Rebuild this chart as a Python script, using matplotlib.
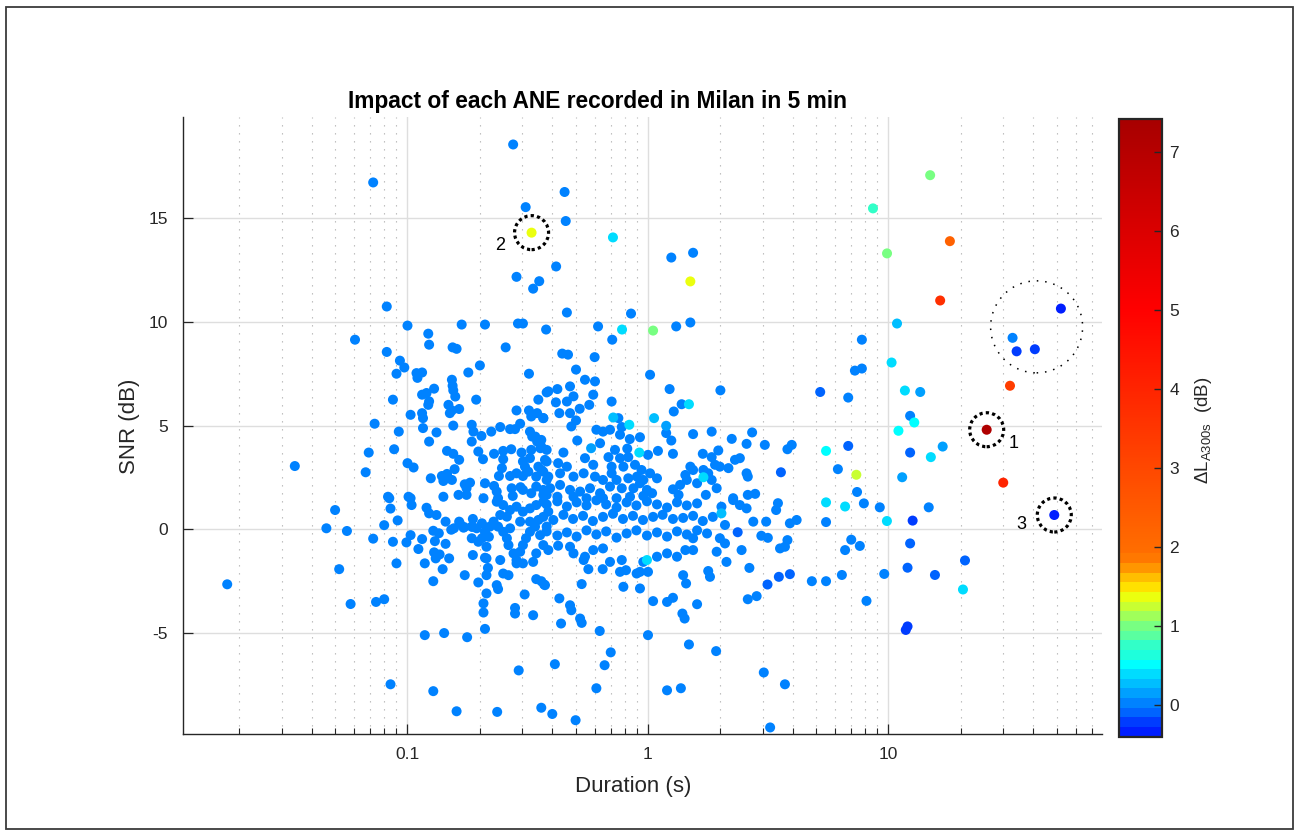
import numpy as np
import matplotlib
matplotlib.use('Agg')
import matplotlib.pyplot as plt
from matplotlib.colors import ListedColormap
from matplotlib.patches import Circle, Rectangle
from matplotlib.transforms import ScaledTranslation
from matplotlib.ticker import LogLocator, NullFormatter

plt.rcParams['font.family'] = ['Liberation Sans', 'DejaVu Sans']
plt.rcParams['mathtext.fontset'] = 'custom'
plt.rcParams['mathtext.rm'] = 'Liberation Sans'
plt.rcParams['mathtext.it'] = 'Liberation Sans:italic'
plt.rcParams['mathtext.bf'] = 'Liberation Sans:bold'

# ---------------- data: (duration s, SNR dB) for events with dL ~ 0 dB -------------
left_sparse = [
    (0.0178, -2.65), (0.034, 3.05), (0.046, 0.05), (0.050, 0.93), (0.056, -0.08),
    (0.052, -1.92), (0.058, -3.6), (0.074, -3.5), (0.080, -3.37), (0.0605, 9.14),
    (0.072, 16.72), (0.082, 10.74), (0.082, 8.55), (0.073, 5.09), (0.069, 3.7),
    (0.067, 2.75), (0.072, -0.45), (0.087, -0.6), (0.090, -1.64), (0.080, 0.2),
    (0.091, 0.43), (0.084, 1.5), (0.085, 1.0), (0.083, 1.57), (0.085, -7.47),
    (0.090, 7.5), (0.087, 6.25), (0.088, 3.86), (0.092, 4.71), (0.093, 8.13),
    (0.097, 7.8),
]
upper_sparse = [
    (0.10, 9.82), (0.122, 9.43), (0.123, 8.9), (0.168, 9.87), (0.21, 9.87),
    (0.154, 8.77), (0.160, 8.7), (0.275, 18.55), (0.31, 15.53), (0.45, 16.26),
    (0.455, 14.86), (0.415, 12.67), (0.284, 12.17), (0.353, 11.96), (0.333, 11.6),
    (0.288, 9.92), (0.302, 9.92), (0.377, 9.63), (0.46, 10.45), (0.62, 9.78),
    (0.85, 10.4), (0.71, 9.14), (1.25, 13.1), (1.54, 13.33), (1.31, 9.78),
    (1.5, 9.97), (0.256, 8.77), (0.44, 8.47), (0.465, 8.42), (0.2, 7.9),
    (0.32, 7.5), (0.6, 8.3), (0.11, 7.3),
]
core_upper_left = [
    (0.109, 7.53), (0.115, 7.56), (0.179, 7.56), (0.153, 7.21), (0.154, 6.92),
    (0.155, 6.7), (0.158, 6.4), (0.129, 6.78), (0.115, 6.49), (0.12, 6.57),
    (0.123, 6.17), (0.122, 6.0), (0.193, 6.25), (0.148, 6.0), (0.153, 5.73),
    (0.164, 5.8), (0.150, 5.6), (0.103, 5.52), (0.115, 5.6), (0.116, 5.36),
    (0.116, 4.88), (0.132, 4.67), (0.155, 5.0), (0.185, 5.04), (0.188, 4.71),
    (0.203, 4.5), (0.223, 4.71), (0.185, 4.23), (0.123, 4.23), (0.243, 4.93),
    (0.267, 4.83), (0.28, 4.83), (0.294, 5.09), (0.284, 5.73), (0.32, 5.73),
    (0.327, 5.44), (0.35, 6.25), (0.367, 5.36), (0.379, 6.6), (0.346, 5.6),
    (0.1, 3.19), (0.106, 2.98), (0.146, 3.78), (0.155, 3.64), (0.164, 3.35),
    (0.157, 2.9), (0.139, 2.57), (0.146, 2.67), (0.141, 2.33), (0.153, 2.38),
    (0.125, 2.46), (0.173, 2.17), (0.182, 2.25), (0.176, 1.98), (0.197, 3.75),
    (0.206, 3.38), (0.229, 3.64), (0.25, 3.78), (0.27, 3.86), (0.298, 3.7),
    (0.25, 3.38), (0.247, 2.95), (0.24, 2.57), (0.267, 2.57), (0.284, 2.7),
    (0.302, 2.57), (0.21, 2.22), (0.229, 2.09), (0.235, 1.82), (0.271, 1.98),
    (0.295, 2.03), (0.323, 4.71), (0.33, 4.47), (0.34, 4.47), (0.346, 4.23),
    (0.36, 4.31), (0.327, 3.83), (0.357, 3.91), (0.379, 3.83), (0.379, 3.27),
    (0.35, 3.02), (0.367, 2.78), (0.343, 2.54), (0.379, 2.38), (0.343, 2.06),
    (0.367, 1.9), (0.379, 1.66), (0.302, 3.27), (0.323, 3.43), (0.308, 3.02),
    (0.318, 2.78), (0.101, 1.57), (0.141, 1.57), (0.163, 1.66), (0.176, 1.66),
    (0.207, 1.5), (0.238, 1.5), (0.274, 1.61), (0.327, 1.74), (0.302, 1.9),
]
core_upper_right = [
    (0.502, 7.7), (1.02, 7.45), (0.547, 7.21), (0.602, 7.13), (0.385, 6.65),
    (0.42, 6.76), (0.474, 6.89), (0.49, 6.41), (0.46, 6.16), (0.414, 6.12),
    (0.592, 6.49), (0.57, 6.0), (0.52, 5.81), (0.706, 6.16), (1.23, 6.76),
    (2.0, 6.7), (1.38, 6.03), (1.28, 5.68), (0.428, 5.6), (0.474, 5.6),
    (0.502, 5.25), (0.48, 4.96), (0.367, 5.36), (0.753, 5.36), (1.19, 4.64),
    (1.25, 4.28), (1.27, 3.64), (1.54, 4.59), (1.84, 4.71), (2.23, 4.36),
    (2.71, 4.67), (2.57, 4.12), (3.06, 4.07), (3.8, 3.86), (3.96, 4.07),
    (0.61, 4.8), (0.65, 4.71), (0.695, 4.8), (0.778, 4.93), (0.765, 4.56),
    (0.84, 4.35), (0.926, 4.44), (0.508, 4.28), (0.632, 4.15), (0.36, 3.99),
    (0.445, 3.7), (0.373, 3.35), (0.423, 3.19), (0.729, 3.83), (0.82, 3.89),
    (1.0, 3.59), (1.1, 3.78), (0.547, 3.43), (0.592, 3.11), (0.685, 3.48),
    (0.765, 3.43), (0.828, 3.48), (0.79, 3.02), (0.706, 3.02), (0.883, 3.11),
    (0.94, 2.86), (1.69, 3.64), (1.84, 3.48), (1.96, 3.8), (1.9, 3.11),
    (1.99, 3.02), (2.3, 3.35), (2.41, 3.43), (2.16, 2.95), (2.57, 2.7),
    (2.6, 2.54), (1.5, 3.02), (1.54, 2.86), (1.43, 2.62), (1.7, 2.86),
    (1.78, 2.7), (1.84, 2.38), (1.93, 1.98), (1.6, 2.22), (1.27, 1.93),
    (1.36, 2.14), (1.45, 2.38), (1.34, 1.66), (1.74, 1.66), (2.26, 1.5),
    (2.6, 1.66), (2.79, 1.71), (0.36, 2.87), (0.385, 2.54), (0.431, 2.7),
    (0.46, 3.02), (0.49, 2.54), (0.54, 2.7), (0.602, 2.54), (0.65, 2.38),
    (0.706, 2.7), (0.74, 2.38), (0.828, 2.46), (0.9, 2.54), (0.956, 2.38),
    (1.02, 2.7), (1.09, 2.46), (0.87, 1.98), (0.926, 2.22), (0.99, 1.9),
    (0.778, 1.98), (0.695, 2.06), (0.632, 1.74), (0.574, 1.98), (0.522, 1.82),
    (0.474, 1.9), (0.431, 2.14), (0.392, 1.98), (0.367, 1.66), (0.42, 1.57),
    (0.49, 1.57), (0.555, 1.5), (0.65, 1.5), (0.74, 1.5), (0.842, 1.57),
    (0.956, 1.61), (1.04, 1.74),
]
core_lower_left = [
    (0.103, 1.5), (0.104, 1.17), (0.12, 1.04), (0.123, 0.77), (0.132, 0.69),
    (0.144, 0.37), (0.103, -0.28), (0.099, -0.63), (0.115, -0.47), (0.111, -0.95),
    (0.118, -1.64), (0.128, -0.07), (0.135, -0.19), (0.130, -0.57), (0.144, -0.7),
    (0.129, -1.11), (0.136, -1.21), (0.149, -1.4), (0.131, -1.4), (0.140, -1.92),
    (0.128, -2.5), (0.152, -0.02), (0.164, 0.37), (0.172, 0.11), (0.186, 0.12),
    (0.187, 0.5), (0.156, 0.05), (0.165, 0.29), (0.171, 0.08), (0.185, 0.13),
    (0.194, 0.05), (0.204, 0.29), (0.21, -0.12), (0.22, 0.13), (0.218, -0.36),
    (0.213, -0.84), (0.204, -0.43), (0.185, -0.43), (0.197, -0.6), (0.238, 0.13),
    (0.25, -0.12), (0.267, 0.05), (0.259, -0.43), (0.263, -0.76), (0.276, -1.16),
    (0.284, -1.48), (0.294, -1.08), (0.302, -0.76), (0.311, -0.43), (0.323, -0.12),
    (0.339, 0.13), (0.356, -0.28), (0.367, -0.76), (0.385, -1.0), (0.343, -1.16),
    (0.333, -1.57), (0.302, -1.64), (0.235, 1.33), (0.25, 1.17), (0.267, 0.93),
    (0.284, 1.09), (0.302, 0.85), (0.323, 1.01), (0.343, 1.17), (0.367, 1.33),
    (0.385, 0.85), (0.294, 0.37), (0.323, 0.37), (0.35, 0.45), (0.379, 0.13),
    (0.259, 0.61), (0.243, 0.69), (0.228, 0.37), (0.213, -1.4), (0.216, -1.86),
    (0.213, -2.21), (0.243, -1.48), (0.25, -2.13), (0.263, -2.21), (0.235, -2.69),
    (0.238, -2.88), (0.197, -2.56), (0.213, -3.09), (0.207, -3.57), (0.207, -4.01),
    (0.307, -3.14), (0.343, -2.4), (0.37, -2.66), (0.28, -3.79), (0.28, -4.06),
    (0.333, -4.14), (0.173, -2.21), (0.187, -1.24), (0.21, -1.37), (0.284, -1.64),
]
core_lower_right = [
    (0.423, -0.79), (0.474, -0.84), (0.49, -1.16), (0.54, -1.48), (0.565, -1.92),
    (0.592, -1.0), (0.65, -0.92), (0.695, -1.57), (0.778, -1.48), (0.765, -2.05),
    (0.81, -1.97), (0.79, -2.77), (0.926, -2.85), (0.897, -2.13), (1.0, -2.05),
    (0.956, -1.57), (1.09, -1.32), (1.2, -1.16), (1.32, -1.32), (1.4, -2.21),
    (1.44, -2.61), (1.43, -1.0), (1.54, -1.0), (1.54, -0.43), (1.78, -2.01),
    (1.81, -2.29), (1.93, -1.08), (2.09, -0.68), (1.99, -0.43), (2.12, -1.57),
    (2.45, -1.0), (2.64, -1.86), (2.96, -0.31), (3.15, -0.41), (3.54, -0.92),
    (3.71, -0.84), (3.8, -0.52), (2.83, -3.22), (2.6, -3.37), (3.89, 0.29),
    (4.15, 0.45), (3.47, 1.26), (3.41, 0.93), (3.1, 0.37), (2.74, 0.37),
    (2.57, 1.01), (2.41, 1.17), (2.26, 1.41), (2.02, 1.09), (2.09, 0.21),
    (0.53, -2.64), (0.428, -3.33), (0.474, -3.66), (0.48, -3.9), (0.522, -4.3),
    (0.53, -4.51), (0.435, -4.54), (0.36, -2.5), (0.373, -2.69), (1.05, -3.46),
    (1.2, -3.5), (1.27, -3.3), (1.6, -3.61), (1.39, -4.06), (1.42, -4.3),
    (0.648, -1.92), (0.547, -1.32), (0.926, -2.05),
]
core_band_top = [
    (0.379, 1.2), (0.42, 1.35), (0.46, 1.1), (0.505, 1.3), (0.555, 1.15),
    (0.61, 1.4), (0.67, 1.2), (0.74, 1.05), (0.815, 1.3), (0.895, 1.15),
    (0.99, 1.35), (1.09, 1.2), (1.2, 1.05), (1.32, 1.3), (1.45, 1.15), (1.6, 1.25),
]
core_band_mid = [
    (0.367, 0.6), (0.404, 0.45), (0.445, 0.7), (0.488, 0.5), (0.537, 0.65),
    (0.59, 0.4), (0.65, 0.6), (0.715, 0.75), (0.787, 0.5), (0.866, 0.65),
    (0.953, 0.45), (1.05, 0.6), (1.15, 0.7), (1.27, 0.5), (1.4, 0.55),
    (1.54, 0.65), (1.69, 0.4), (1.86, 0.6),
]
core_band_low = [
    (0.379, -0.1), (0.42, -0.3), (0.46, -0.15), (0.505, -0.35), (0.555, -0.05),
    (0.61, -0.25), (0.67, -0.1), (0.74, -0.4), (0.815, -0.2), (0.895, -0.05),
    (0.99, -0.3), (1.09, -0.15), (1.2, -0.35), (1.32, -0.1), (1.45, -0.25),
    (1.6, -0.05), (1.76, -0.2),
]
lower_sparse = [
    (3.22, -9.55), (3.71, -7.47), (3.03, -6.9), (1.92, -5.87), (1.37, -7.66),
    (1.2, -7.76), (1.48, -5.55), (1.0, -5.1), (0.7, -5.93), (0.66, -6.55),
    (0.61, -7.66), (0.41, -6.5), (0.29, -6.8), (0.36, -8.6), (0.40, -8.9),
    (0.5, -9.2), (0.236, -8.8), (0.16, -8.77), (0.128, -7.8), (0.118, -5.1),
    (0.142, -5.0), (0.177, -5.2), (0.21, -4.8), (0.63, -4.9),
]
BASE_DELTA = 0.02

# ---------------- events with their own dL (duration s, SNR dB, dL dB) ------------
coloured_events = [
    (1.48, 6.03, 0.4), (0.717, 5.39, 0.25), (0.836, 5.04, 0.45), (1.06, 5.36, 0.25),
    (1.19, 4.99, 0.2), (0.58, 3.91, 0.2), (0.92, 3.7, 0.35), (1.7, 2.51, 0.35),
    (3.57, 2.75, -0.1), (0.99, -1.48, 0.35), (2.36, -0.14, -0.1), (3.5, -2.29, -0.1),
    (3.89, -2.16, -0.1), (3.14, -2.66, -0.15), (2.02, 0.77, 0.25),
    (7.75, 9.14, 0.05), (7.25, 7.65, 0.0), (7.75, 7.75, 0.0), (5.2, 6.62, -0.05),
    (6.8, 6.35, 0.0), (6.8, 4.02, -0.1), (5.5, 3.78, 0.5), (6.16, 2.9, 0.0),
    (7.35, 2.63, 1.3), (5.5, 1.3, 0.45), (6.6, 1.1, 0.45), (7.4, 1.8, 0.0),
    (7.9, 1.25, 0.0), (5.5, 0.35, 0.0), (7.0, -0.5, 0.0), (7.6, -0.8, 0.0),
    (6.6, -1.0, 0.0), (8.1, -3.45, 0.0), (6.4, -2.2, 0.0), (5.5, -2.5, 0.0),
    (4.8, -2.5, 0.0), (9.6, -2.15, 0.0), (9.85, 0.4, 0.45), (9.2, 1.06, 0.0),
    (11.8, -4.85, -0.2), (12.0, -4.68, -0.2), (12.0, -1.85, -0.1), (15.6, -2.2, -0.1),
    (20.8, -1.5, -0.1), (20.4, -2.9, 0.45), (14.7, 1.06, 0.0), (12.6, 0.42, -0.2),
    (12.3, -0.68, -0.1), (12.3, 3.7, -0.05), (15.0, 3.48, 0.45), (16.8, 3.99, 0.1),
    (11.4, 2.51, 0.1), (12.3, 5.47, 0.05), (13.55, 6.62, 0.1),
    (14.9, 17.07, 1.05), (8.62, 15.47, 0.8), (18.0, 13.89, 2.3), (9.86, 13.3, 0.95),
    (16.4, 11.03, 3.7), (10.85, 9.92, 0.3), (10.3, 8.04, 0.45), (11.7, 6.69, 0.45),
    (12.8, 5.15, 0.5), (11.0, 4.75, 0.5), (52.1, 10.64, -0.3), (32.8, 9.23, 0.0),
    (34.1, 8.58, -0.25), (40.6, 8.68, -0.25), (32.0, 6.92, 3.3), (30.0, 2.25, 4.0),
    (0.715, 14.07, 0.35), (1.5, 11.95, 1.4), (0.78, 9.63, 0.45), (1.05, 9.58, 1.0),
]
# highlighted events (numbered in the figure)
marked_events = {'1': (25.6, 4.80, 7.2), '2': (0.328, 14.30, 1.4), '3': (48.9, 0.69, -0.3)}
cluster_centre = (41.3, 9.76)

ordinary = (left_sparse + upper_sparse + core_upper_left + core_upper_right +
            core_lower_left + core_lower_right + core_band_top + core_band_mid +
            core_band_low + lower_sparse)
dur = [p[0] for p in ordinary] + [p[0] for p in coloured_events] + [v[0] for v in marked_events.values()]
snr = [p[1] for p in ordinary] + [p[1] for p in coloured_events] + [v[1] for v in marked_events.values()]
dla = [BASE_DELTA] * len(ordinary) + [p[2] for p in coloured_events] + [v[2] for v in marked_events.values()]

# ---------------- colormap: jet-like steps below ~2 dB, smooth reds above ---------
low_bands = [(0, 30, 255), (0, 60, 255), (0, 100, 255), (0, 130, 255), (0, 160, 255),
             (0, 190, 255), (0, 220, 255), (0, 255, 255), (30, 255, 220), (50, 255, 200),
             (90, 255, 160), (120, 255, 130), (160, 255, 90), (200, 255, 50), (235, 255, 15),
             (255, 225, 0), (255, 190, 0), (255, 150, 0), (255, 120, 0)]
SUB = 8  # sub-steps per 1/64 of the range, so the red part looks smooth
cols = []
for b in low_bands:
    cols += [tuple(c / 255 for c in b)] * SUB
n_up = 64 * SUB - len(cols)
red_at = int(round((5.0 - 1.92) / (7.42 - 1.92) * n_up))
for t in np.linspace(0, 1, red_at, endpoint=False):
    cols.append((1.0, (110 - 110 * t) / 255, 0.0))
for t in np.linspace(0, 1, n_up - red_at):
    cols.append(((255 - 88 * t) / 255, 0.0, 0.0))
cmap = ListedColormap(cols)
VMIN, VMAX = -0.40, 7.42

W, H = 1296, 836
fig = plt.figure(figsize=(W / 100, H / 100), dpi=100)
ax = fig.add_axes([183.3 / W, 1 - 734.3 / H, (1101.7 - 183.3) / W, (734.3 - 117.3) / H])
cax = fig.add_axes([1119 / W, 1 - 736.7 / H, (1161.7 - 1119) / W, (736.7 - 119.3) / H])

sc = ax.scatter(dur, snr, c=dla, cmap=cmap, vmin=VMIN, vmax=VMAX, s=52, linewidths=0, zorder=3)

ax.set_xscale('log')
ax.set_xlim(0.01169, 77.0)
ax.set_ylim(-9.88, 19.86)
ax.set_xticks([0.1, 1, 10])
ax.set_xticklabels(['0.1', '1', '10'])
ax.xaxis.set_minor_locator(LogLocator(base=10, subs=np.arange(2, 10)))
ax.xaxis.set_minor_formatter(NullFormatter())
ax.set_yticks([-5, 0, 5, 10, 15])
ax.set_yticklabels(['-5', '0', '5', '10', '15'])
ax.set_axisbelow(True)
ax.grid(True, which='major', color='#dedede', lw=1.0, ls='-')
ax.xaxis.grid(True, which='minor', color='#b5b5b5', lw=0.8, ls=(0, (1.2, 6.0)))
for s in ('top', 'right'):
    ax.spines[s].set_visible(False)
for s in ('left', 'bottom'):
    ax.spines[s].set_color('#262626')
    ax.spines[s].set_linewidth(1.0)
ax.tick_params(which='major', direction='in', length=7, width=0.9, color='#262626',
               labelcolor='#262626', labelsize=12.5, top=False, right=False)
ax.tick_params(which='minor', direction='in', length=4, width=0.8, color='#262626',
               top=False, right=False)
ax.tick_params(axis='x', which='major', pad=9)
ax.tick_params(axis='y', which='major', pad=11)

# colorbar
cb = fig.colorbar(sc, cax=cax, ticks=range(8))
cax.tick_params(direction='in', length=5.5, width=1.0, color='#262626',
                labelcolor='#262626', labelsize=12.5, pad=5.5)
cb.outline.set_linewidth(1.6)
cb.outline.set_edgecolor('#262626')
fig.text(1203 / W, 1 - 430 / H, r'$\Delta$L$_{\mathrm{A300s}}$  (dB)', rotation=90,
         ha='center', va='center', fontsize=13.5, color='#262626')

# titles and labels
fig.text(597 / W, 1 - 108.3 / H, 'Impact of each ANE recorded in Milan in 5 min',
         ha='center', va='baseline', fontsize=16.4, fontweight='bold', color='black')
fig.text(633.4 / W, 1 - 791.7 / H, 'Duration (s)', ha='center', va='baseline',
         fontsize=16, color='#262626')
fig.text(130 / W, 1 - 426 / H, 'SNR (dB)', rotation=90, ha='center', va='center',
         fontsize=16, color='#262626')


def ring(x, y, r_px, lw, ls):
    c = Circle((0, 0), r_px / 100, transform=fig.dpi_scale_trans + ScaledTranslation(x, y, ax.transData),
               fill=False, edgecolor='black', lw=lw, ls=ls, zorder=5, clip_on=False)
    ax.add_artist(c)


for key, (d, s_, _) in marked_events.items():
    ring(d, s_, 17, 2.3, (0, (1.0, 1.0)))
ring(cluster_centre[0], cluster_centre[1], 46, 1.1, (0, (1.0, 4.5)))

label_offsets = {'1': (19.2, -9.6), '2': (-22.3, -9.6), '3': (-24.0, -6.5)}
for key, (d, s_, _) in marked_events.items():
    ax.annotate(key, xy=(d, s_), xytext=label_offsets[key], textcoords='offset points',
                ha='center', va='center', fontsize=13, color='black')

# figure frame
fig.patches.append(Rectangle((6 / W, 7 / H), (1292.7 - 6) / W, (829 - 7) / H,
                             transform=fig.transFigure, fill=False, edgecolor='#3a3a3a', lw=1.3))

fig.savefig('out.png', dpi=100)
